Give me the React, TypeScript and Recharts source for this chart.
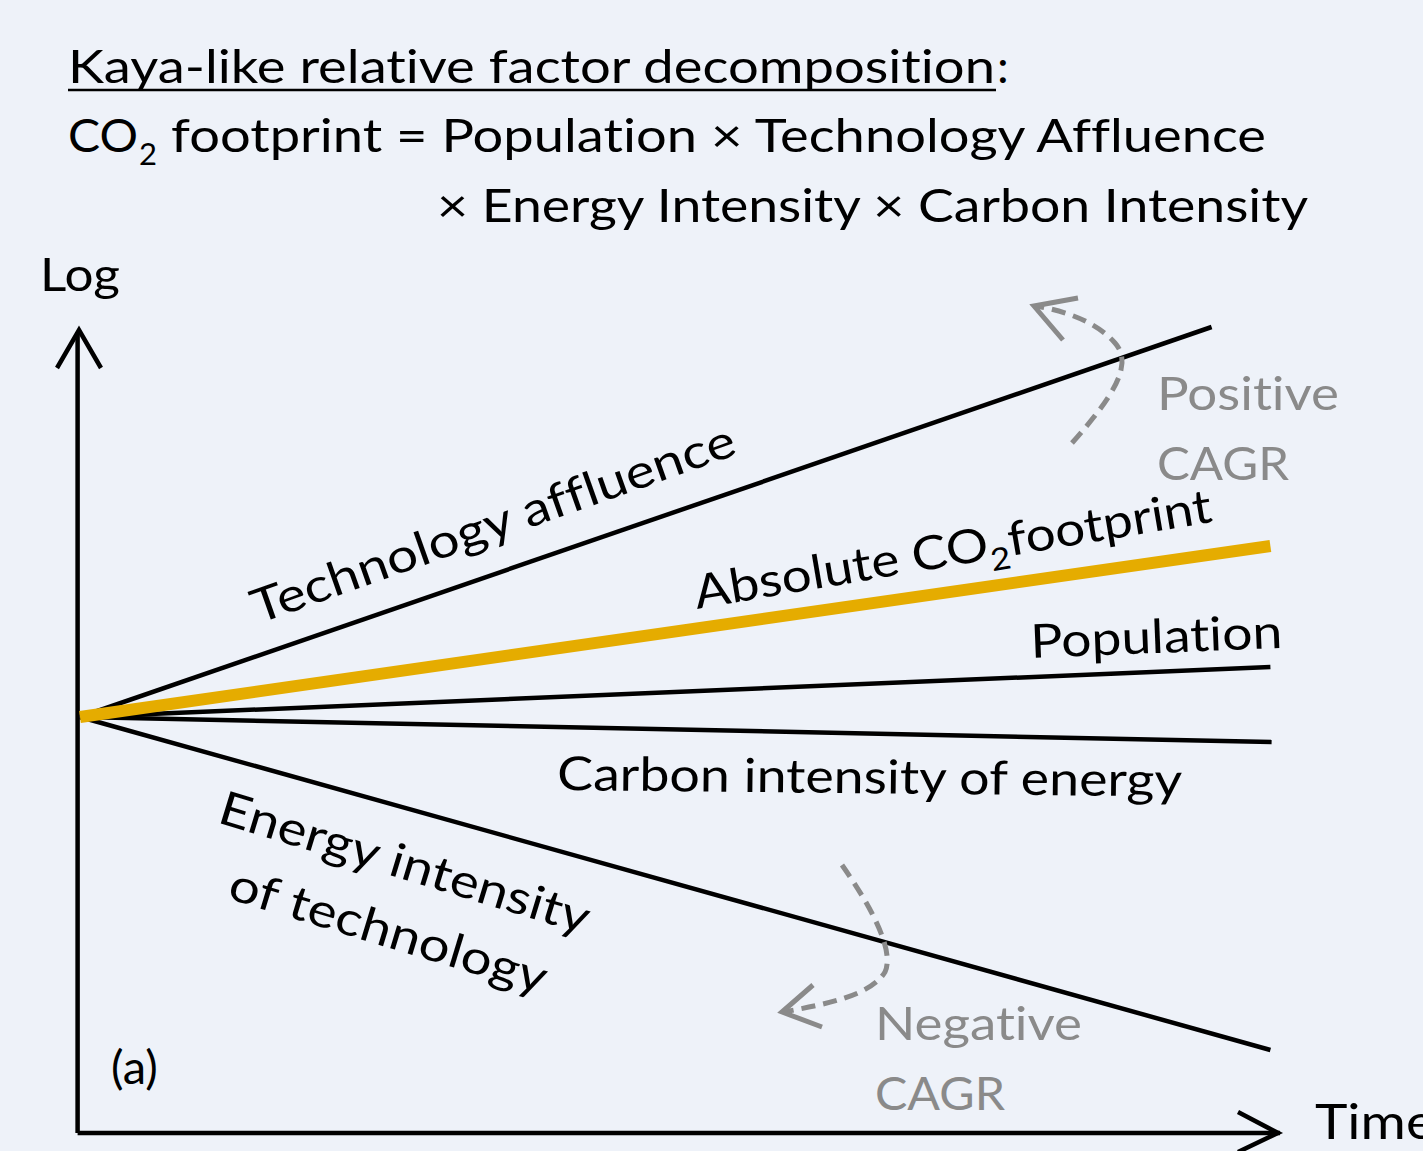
import React from "react";
import { LineChart, Line, XAxis, YAxis, ReferenceLine } from "recharts";

// time runs 0..10, log value runs -4..4 (0 = common starting point)
const startEnd = [0, 1];
const techTime = [0, 9.43];
const techLog = [0, 3.9];
const co2Time = [0, 9.92];
const co2Log = [0, 1.71];
const popTime = [0, 9.92];
const popLog = [0, 0.5];
const carbonTime = [0, 9.93];
const carbonLog = [0, -0.25];
const energyTime = [0, 9.92];
const energyLog = [0, -3.33];

const toRows = (t: number[], v: number[]) => startEnd.map((i) => ({ t: t[i], v: v[i] }));

const BG = "#eef2f9";
const GOLD = "#e5ac00";
const GREY = "#8a8a8a";
const FONT = "Lato, 'Noto Sans', sans-serif";

const W = 1423;
const H = 1151;

const Overlay: React.FC = () => (
  <svg
    width={W}
    height={H}
    style={{ position: "absolute", left: 0, top: 0, pointerEvents: "none", fontVariantLigatures: "none" }}
    fontFamily={FONT}
  >
    {/* title */}
    <text x={68} y={83} fontSize={47} fill="#000" textLength={927} lengthAdjust="spacingAndGlyphs">
      Kaya-like relative factor decomposition
    </text>
    <line x1={68} x2={996} y1={90} y2={90} stroke="#000" strokeWidth={2.5} />
    <text x={997} y={83} fontSize={47} fill="#000">:</text>

    <text x={68} y={152} fontSize={47} fill="#000" textLength={70} lengthAdjust="spacingAndGlyphs">CO</text>
    <text x={139} y={165} fontSize={31} fill="#000">2</text>
    <text x={171} y={152} fontSize={47} fill="#000" textLength={1095} lengthAdjust="spacingAndGlyphs">
      footprint = Population × Technology Affluence
    </text>
    <text x={437} y={222} fontSize={47} fill="#000" textLength={871} lengthAdjust="spacingAndGlyphs">
      × Energy Intensity × Carbon Intensity
    </text>

    {/* axis names */}
    <text x={40} y={291} fontSize={47} fill="#000" textLength={80} lengthAdjust="spacingAndGlyphs">Log</text>
    <text x={1315} y={1139} fontSize={49} fill="#000" textLength={120} lengthAdjust="spacingAndGlyphs">Time</text>
    <text x={111} y={1084} fontSize={47} fill="#000">(a)</text>

    {/* axis arrowheads */}
    <polyline points="57,368 79,330 101,368" fill="none" stroke="#000" strokeWidth={4.5} />
    <polyline points="1238,1112 1278,1133 1238,1152" fill="none" stroke="#000" strokeWidth={4.5} />

    {/* series labels */}
    <text
      x={258}
      y={624}
      fontSize={47}
      fill="#000"
      transform="rotate(-19.5 258 624)"
      textLength={510}
      lengthAdjust="spacingAndGlyphs"
    >
      Technology affluence
    </text>
    <text
      x={697}
      y={609}
      fontSize={47}
      fill="#000"
      transform="rotate(-9.6 697 609)"
      textLength={524}
      lengthAdjust="spacingAndGlyphs"
    >
      Absolute CO<tspan dy={12} fontSize={31}>2</tspan>
      <tspan dy={-12}>footprint</tspan>
    </text>
    <text
      x={1031}
      y={658}
      fontSize={47}
      fill="#000"
      transform="rotate(-2.3 1031 658)"
      textLength={252}
      lengthAdjust="spacingAndGlyphs"
    >
      Population
    </text>
    <text x={557} y={790} fontSize={47} fill="#000" transform="rotate(0.6 557 790)" textLength={625} lengthAdjust="spacingAndGlyphs">
      Carbon intensity of energy
    </text>
    <text x={216} y={822} fontSize={47} fill="#000" transform="rotate(17 216 822)" textLength={385} lengthAdjust="spacingAndGlyphs">
      Energy intensity
    </text>
    <text x={226} y={898} fontSize={47} fill="#000" transform="rotate(17 226 898)" textLength={330} lengthAdjust="spacingAndGlyphs">
      of technology
    </text>

    {/* CAGR annotations */}
    <path
      d="M1072,443 C1110,400 1135,365 1115,343 C1095,320 1060,310 1036,306"
      fill="none"
      stroke={GREY}
      strokeWidth={5}
      strokeDasharray="14 8"
    />
    <polyline points="1078,298 1034,306 1063,340" fill="none" stroke={GREY} strokeWidth={5} />
    <text x={1157} y={410} fontSize={47} fill={GREY} textLength={182} lengthAdjust="spacingAndGlyphs">Positive</text>
    <text x={1157} y={480} fontSize={47} fill={GREY} textLength={132} lengthAdjust="spacingAndGlyphs">CAGR</text>

    <path
      d="M842,865 C870,905 895,950 885,972 C870,997 820,1005 784,1012"
      fill="none"
      stroke={GREY}
      strokeWidth={5}
      strokeDasharray="14 8"
    />
    <polyline points="813,985 782,1012 822,1027" fill="none" stroke={GREY} strokeWidth={5} />
    <text x={875} y={1040} fontSize={47} fill={GREY} textLength={207} lengthAdjust="spacingAndGlyphs">Negative</text>
    <text x={875} y={1110} fontSize={47} fill={GREY} textLength={130} lengthAdjust="spacingAndGlyphs">CAGR</text>
  </svg>
);

const App: React.FC = () => {
  return (
    <div style={{ position: "absolute", left: 0, top: 0, width: W, height: H, background: BG }}>
      <LineChart width={W} height={H} margin={{ top: 317, right: 143, bottom: 34, left: 80 }}>
        <XAxis type="number" dataKey="t" domain={[0, 10]} hide />
        <YAxis type="number" dataKey="v" domain={[-4, 4]} hide />

        {/* axes drawn as segments from the corner */}
        <ReferenceLine
          segment={[{ x: -0.02, y: -4.16 }, { x: 10.0, y: -4.16 }]}
          stroke="#000"
          strokeWidth={4.5}
          ifOverflow="visible"
        />
        <ReferenceLine
          segment={[{ x: -0.02, y: -4.16 }, { x: -0.02, y: 3.85 }]}
          stroke="#000"
          strokeWidth={4.5}
          ifOverflow="visible"
        />

        <Line data={toRows(techTime, techLog)} dataKey="v" stroke="#000" strokeWidth={4.5} dot={false} activeDot={false} isAnimationActive={false} />
        <Line data={toRows(popTime, popLog)} dataKey="v" stroke="#000" strokeWidth={4.5} dot={false} activeDot={false} isAnimationActive={false} />
        <Line data={toRows(carbonTime, carbonLog)} dataKey="v" stroke="#000" strokeWidth={4.5} dot={false} activeDot={false} isAnimationActive={false} />
        <Line data={toRows(energyTime, energyLog)} dataKey="v" stroke="#000" strokeWidth={4.5} dot={false} activeDot={false} isAnimationActive={false} />
        <Line data={toRows(co2Time, co2Log)} dataKey="v" stroke={GOLD} strokeWidth={12} dot={false} activeDot={false} isAnimationActive={false} />
      </LineChart>
      <Overlay />
    </div>
  );
};

export default App;
